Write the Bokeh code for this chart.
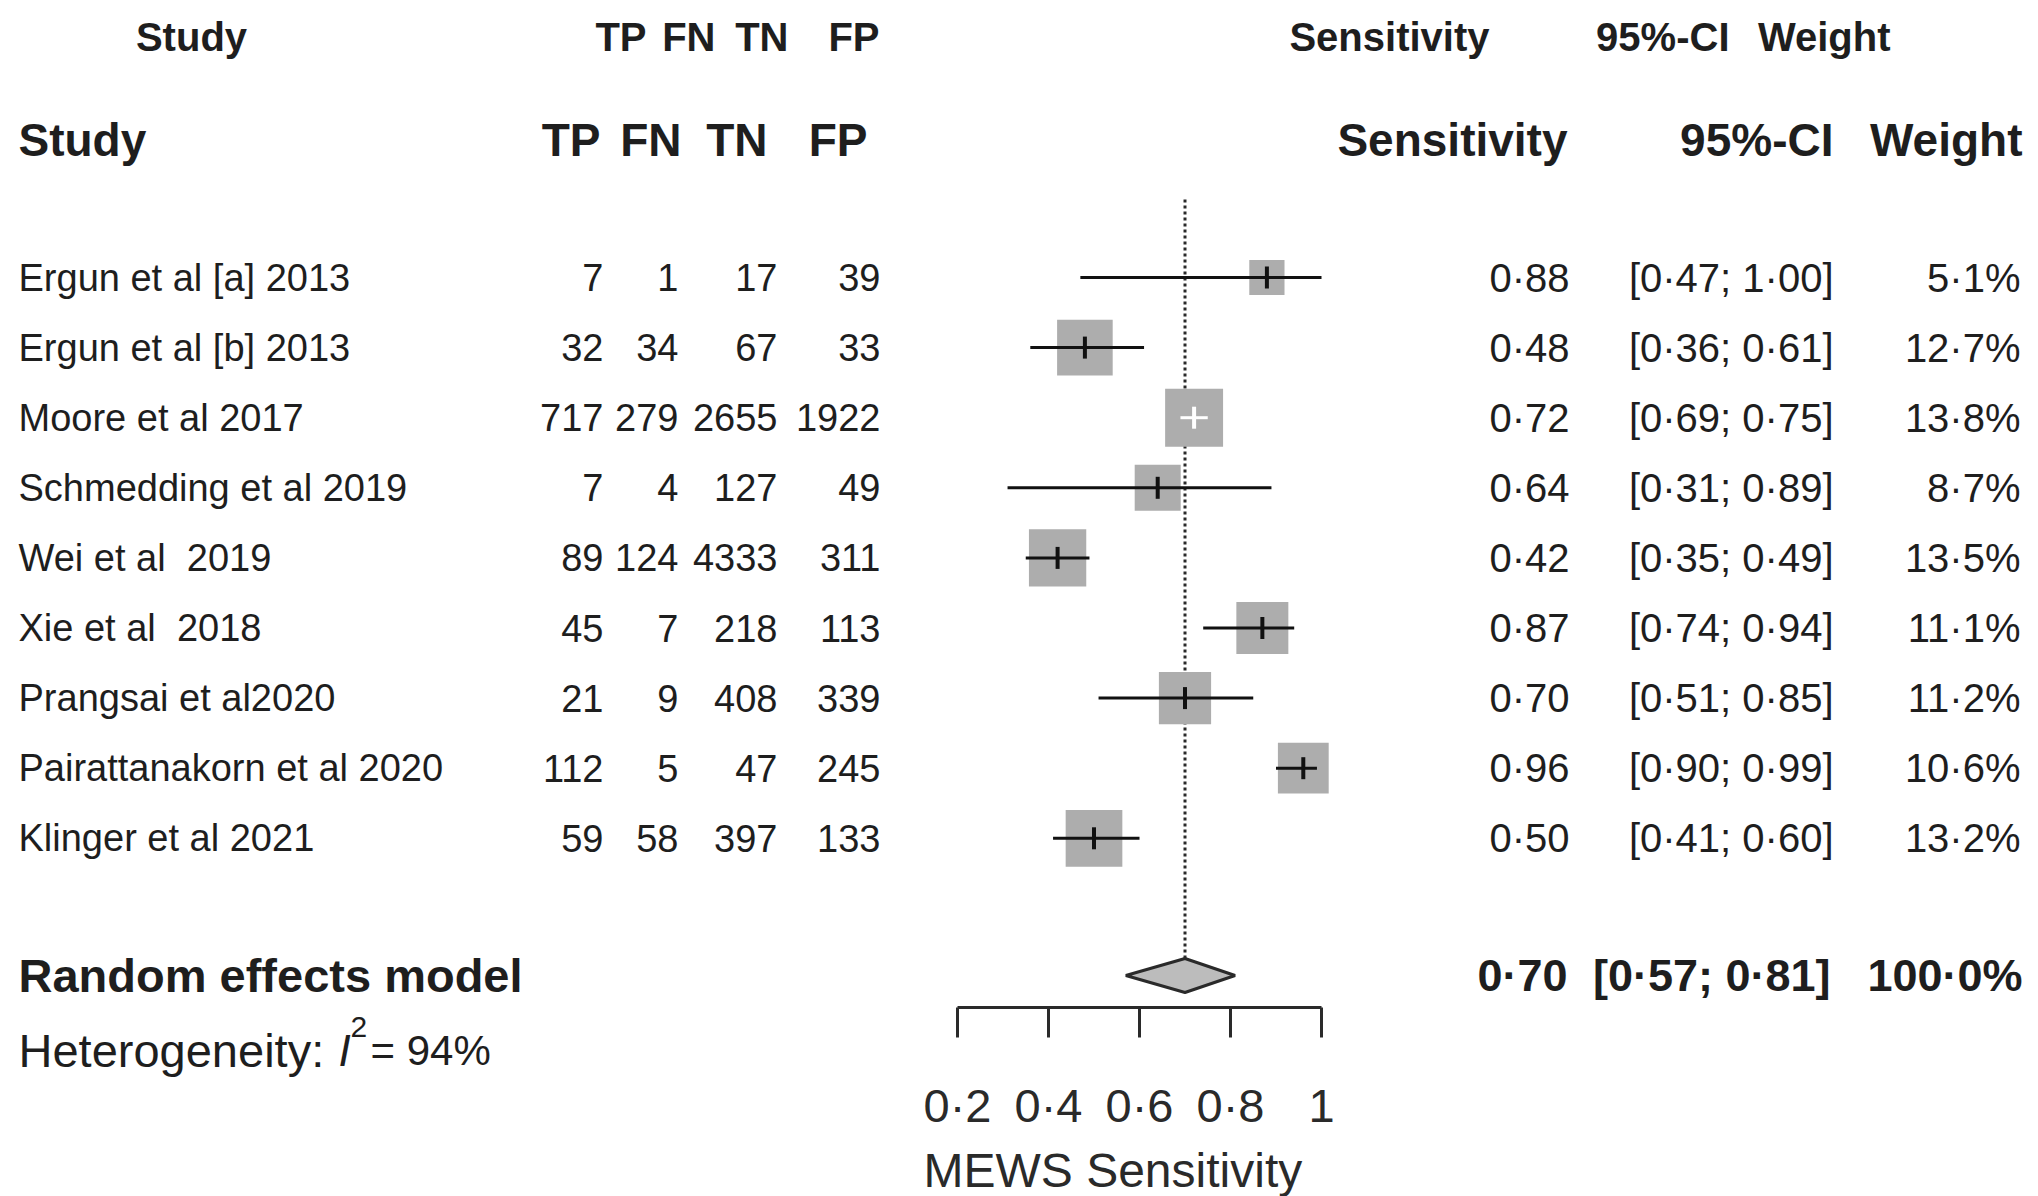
import math
from bokeh.plotting import figure
from bokeh.models import Range1d
from bokeh.embed import file_html
from bokeh.resources import INLINE
from bokeh.core.properties import value

# ---------------- data ----------------
studies = ["Ergun et al [a] 2013", "Ergun et al [b] 2013", "Moore et al 2017",
           "Schmedding et al 2019", "Wei et al  2019", "Xie et al  2018",
           "Prangsai et al2020", "Pairattanakorn et al 2020", "Klinger et al 2021"]
tp = [7, 32, 717, 7, 89, 45, 21, 112, 59]
fn = [1, 34, 279, 4, 124, 7, 9, 5, 58]
tn = [17, 67, 2655, 127, 4333, 218, 408, 47, 397]
fp = [39, 33, 1922, 49, 311, 113, 339, 245, 133]
sens = [0.88, 0.48, 0.72, 0.64, 0.42, 0.87, 0.70, 0.96, 0.50]
ci_lo = [0.47, 0.36, 0.69, 0.31, 0.35, 0.74, 0.51, 0.90, 0.41]
ci_hi = [1.00, 0.61, 0.75, 0.89, 0.49, 0.94, 0.85, 0.99, 0.60]
weight = [5.1, 12.7, 13.8, 8.7, 13.5, 11.1, 11.2, 10.6, 13.2]
pooled, pooled_lo, pooled_hi, pooled_weight = 0.70, 0.57, 0.81, 100.0
i2 = 94
axis_ticks = [0.2, 0.4, 0.6, 0.8, 1.0]
axis_tick_labels = ["0·2", "0·4", "0·6", "0·8", "1"]
axis_title = "MEWS Sensitivity"
model_label = "Random effects model"


def dot(v, nd):
    return f"{v:.{nd}f}".replace(".", "·")


def keep_spaces(s):
    # keep doubled spaces visible in SVG text
    return s.replace("  ", " \u00a0")


# ---------------- layout ----------------
W, H = 2038, 1196
PX_02, PX_PER_UNIT = 957.0, 455.0   # pixel of sensitivity 0.2, pixels per unit
v_left = 0.2 - PX_02 / PX_PER_UNIT
v_right = v_left + W / PX_PER_UNIT

row_y = [277 + i * 70.1 for i in range(len(studies))]
RE_Y, HET_Y = 975, 1050
AXIS_Y = 1007

FONT = value("Liberation Sans")
INK = "#1e1e1e"

p = figure(width=W, height=H, x_range=Range1d(0, W), y_range=Range1d(H, 0),
           output_backend="svg", toolbar_location=None, min_border=0,
           x_axis_type=None, y_axis_type=None)
p.extra_x_ranges = {"sens": Range1d(v_left, v_right)}
p.grid.visible = False
p.outline_line_color = None
p.background_fill_color = "white"


def txt(x, y, t, size, align="left", style="normal", color=INK, baseline="middle"):
    p.text(x=x, y=y, text=t, text_font=FONT, text_font_size=f"{size}px",
           text_align=align, text_baseline=baseline, text_font_style=style,
           text_color=color)


# headers (two stacked header lines as in the original)
txt([191], [36], ["Study"], 40, "center", "bold")
txt([646, 715, 788, 879], [36] * 4, ["TP", "FN", "TN", "FP"], 40, "right", "bold")
txt([1489], [36], ["Sensitivity"], 40, "right", "bold")
txt([1729, 1890], [36, 36], ["95%-CI", "Weight"], 40, "right", "bold")

txt([18], [139], ["Study"], 46, "left", "bold")
txt([600, 681, 767, 867], [139] * 4, ["TP", "FN", "TN", "FP"], 46, "right", "bold")
txt([1567, 1833, 2022], [139] * 3, ["Sensitivity", "95%-CI", "Weight"], 46, "right", "bold")

# study rows
txt([18] * len(studies), row_y, [keep_spaces(s) for s in studies], 38)
for col_x, vals in zip([603, 678, 777, 880], [tp, fn, tn, fp]):
    txt([col_x] * len(vals), row_y, [str(v) for v in vals], 38, "right")
txt([1569] * len(sens), row_y, [dot(v, 2) for v in sens], 40, "right")
txt([1833] * len(sens), row_y,
    [f"[{dot(a, 2)}; {dot(b, 2)}]" for a, b in zip(ci_lo, ci_hi)], 40, "right")
txt([2020] * len(weight), row_y, [dot(w, 1) + "%" for w in weight], 40, "right")

# pooled row
txt([18], [RE_Y], [model_label], 47, "left", "bold")
txt([1567], [RE_Y], [dot(pooled, 2)], 45, "right", "bold")
txt([1830], [RE_Y], [f"[{dot(pooled_lo, 2)}; {dot(pooled_hi, 2)}]"], 45, "right", "bold")
txt([2022], [RE_Y], [dot(pooled_weight, 1) + "%"], 45, "right", "bold")

# heterogeneity
txt([18], [HET_Y], ["Heterogeneity:"], 47)
txt([338], [HET_Y], ["I"], 44, "left", "italic")
txt([350], [HET_Y - 24], ["2"], 30)
txt([370], [HET_Y], [f"= {i2}%"], 42)

# ---------------- forest ----------------
# reference (dotted) line at pooled estimate
p.segment(x0=[pooled], x1=[pooled], y0=[199], y1=[RE_Y - 17],
          x_range_name="sens", line_color="#2a2a2a", line_width=3, line_dash="3 3")

sizes = [15.6 * math.sqrt(w) for w in weight]
p.rect(x=sens, y=row_y, width=sizes, height=sizes, width_units="screen",
       height_units="screen", x_range_name="sens", fill_color="#adadad",
       line_color=None)

ci_colors = []
for s, lo, hi, sz in zip(sens, ci_lo, ci_hi, sizes):
    half = sz / 2 / PX_PER_UNIT
    ci_colors.append("white" if (lo >= s - half and hi <= s + half) else "#111111")

p.segment(x0=ci_lo, x1=ci_hi, y0=row_y, y1=row_y, x_range_name="sens",
          line_color=ci_colors, line_width=3)
p.segment(x0=sens, x1=sens, y0=[y - 11 for y in row_y], y1=[y + 11 for y in row_y],
          x_range_name="sens", line_color=ci_colors, line_width=4)

# pooled diamond
p.patch(x=[pooled_lo, pooled, pooled_hi, pooled], y=[RE_Y, RE_Y - 17, RE_Y, RE_Y + 17],
        x_range_name="sens", fill_color="#bcbcbc", line_color="#2a2a2a", line_width=3)

# x axis
p.segment(x0=[axis_ticks[0]], x1=[axis_ticks[-1]], y0=[AXIS_Y], y1=[AXIS_Y],
          x_range_name="sens", line_color="#2a2a2a", line_width=3)
p.segment(x0=axis_ticks, x1=axis_ticks, y0=[AXIS_Y] * len(axis_ticks),
          y1=[AXIS_Y + 30] * len(axis_ticks), x_range_name="sens",
          line_color="#2a2a2a", line_width=3)
p.text(x=axis_ticks, y=[1105] * len(axis_ticks), text=axis_tick_labels,
       x_range_name="sens", text_font=FONT, text_font_size="47px",
       text_align="center", text_baseline="middle", text_color="#2a2a2a")
txt([923], [1170], [axis_title], 48, "left", color="#2a2a2a")

open("out.html", "w").write(file_html(p, INLINE))
